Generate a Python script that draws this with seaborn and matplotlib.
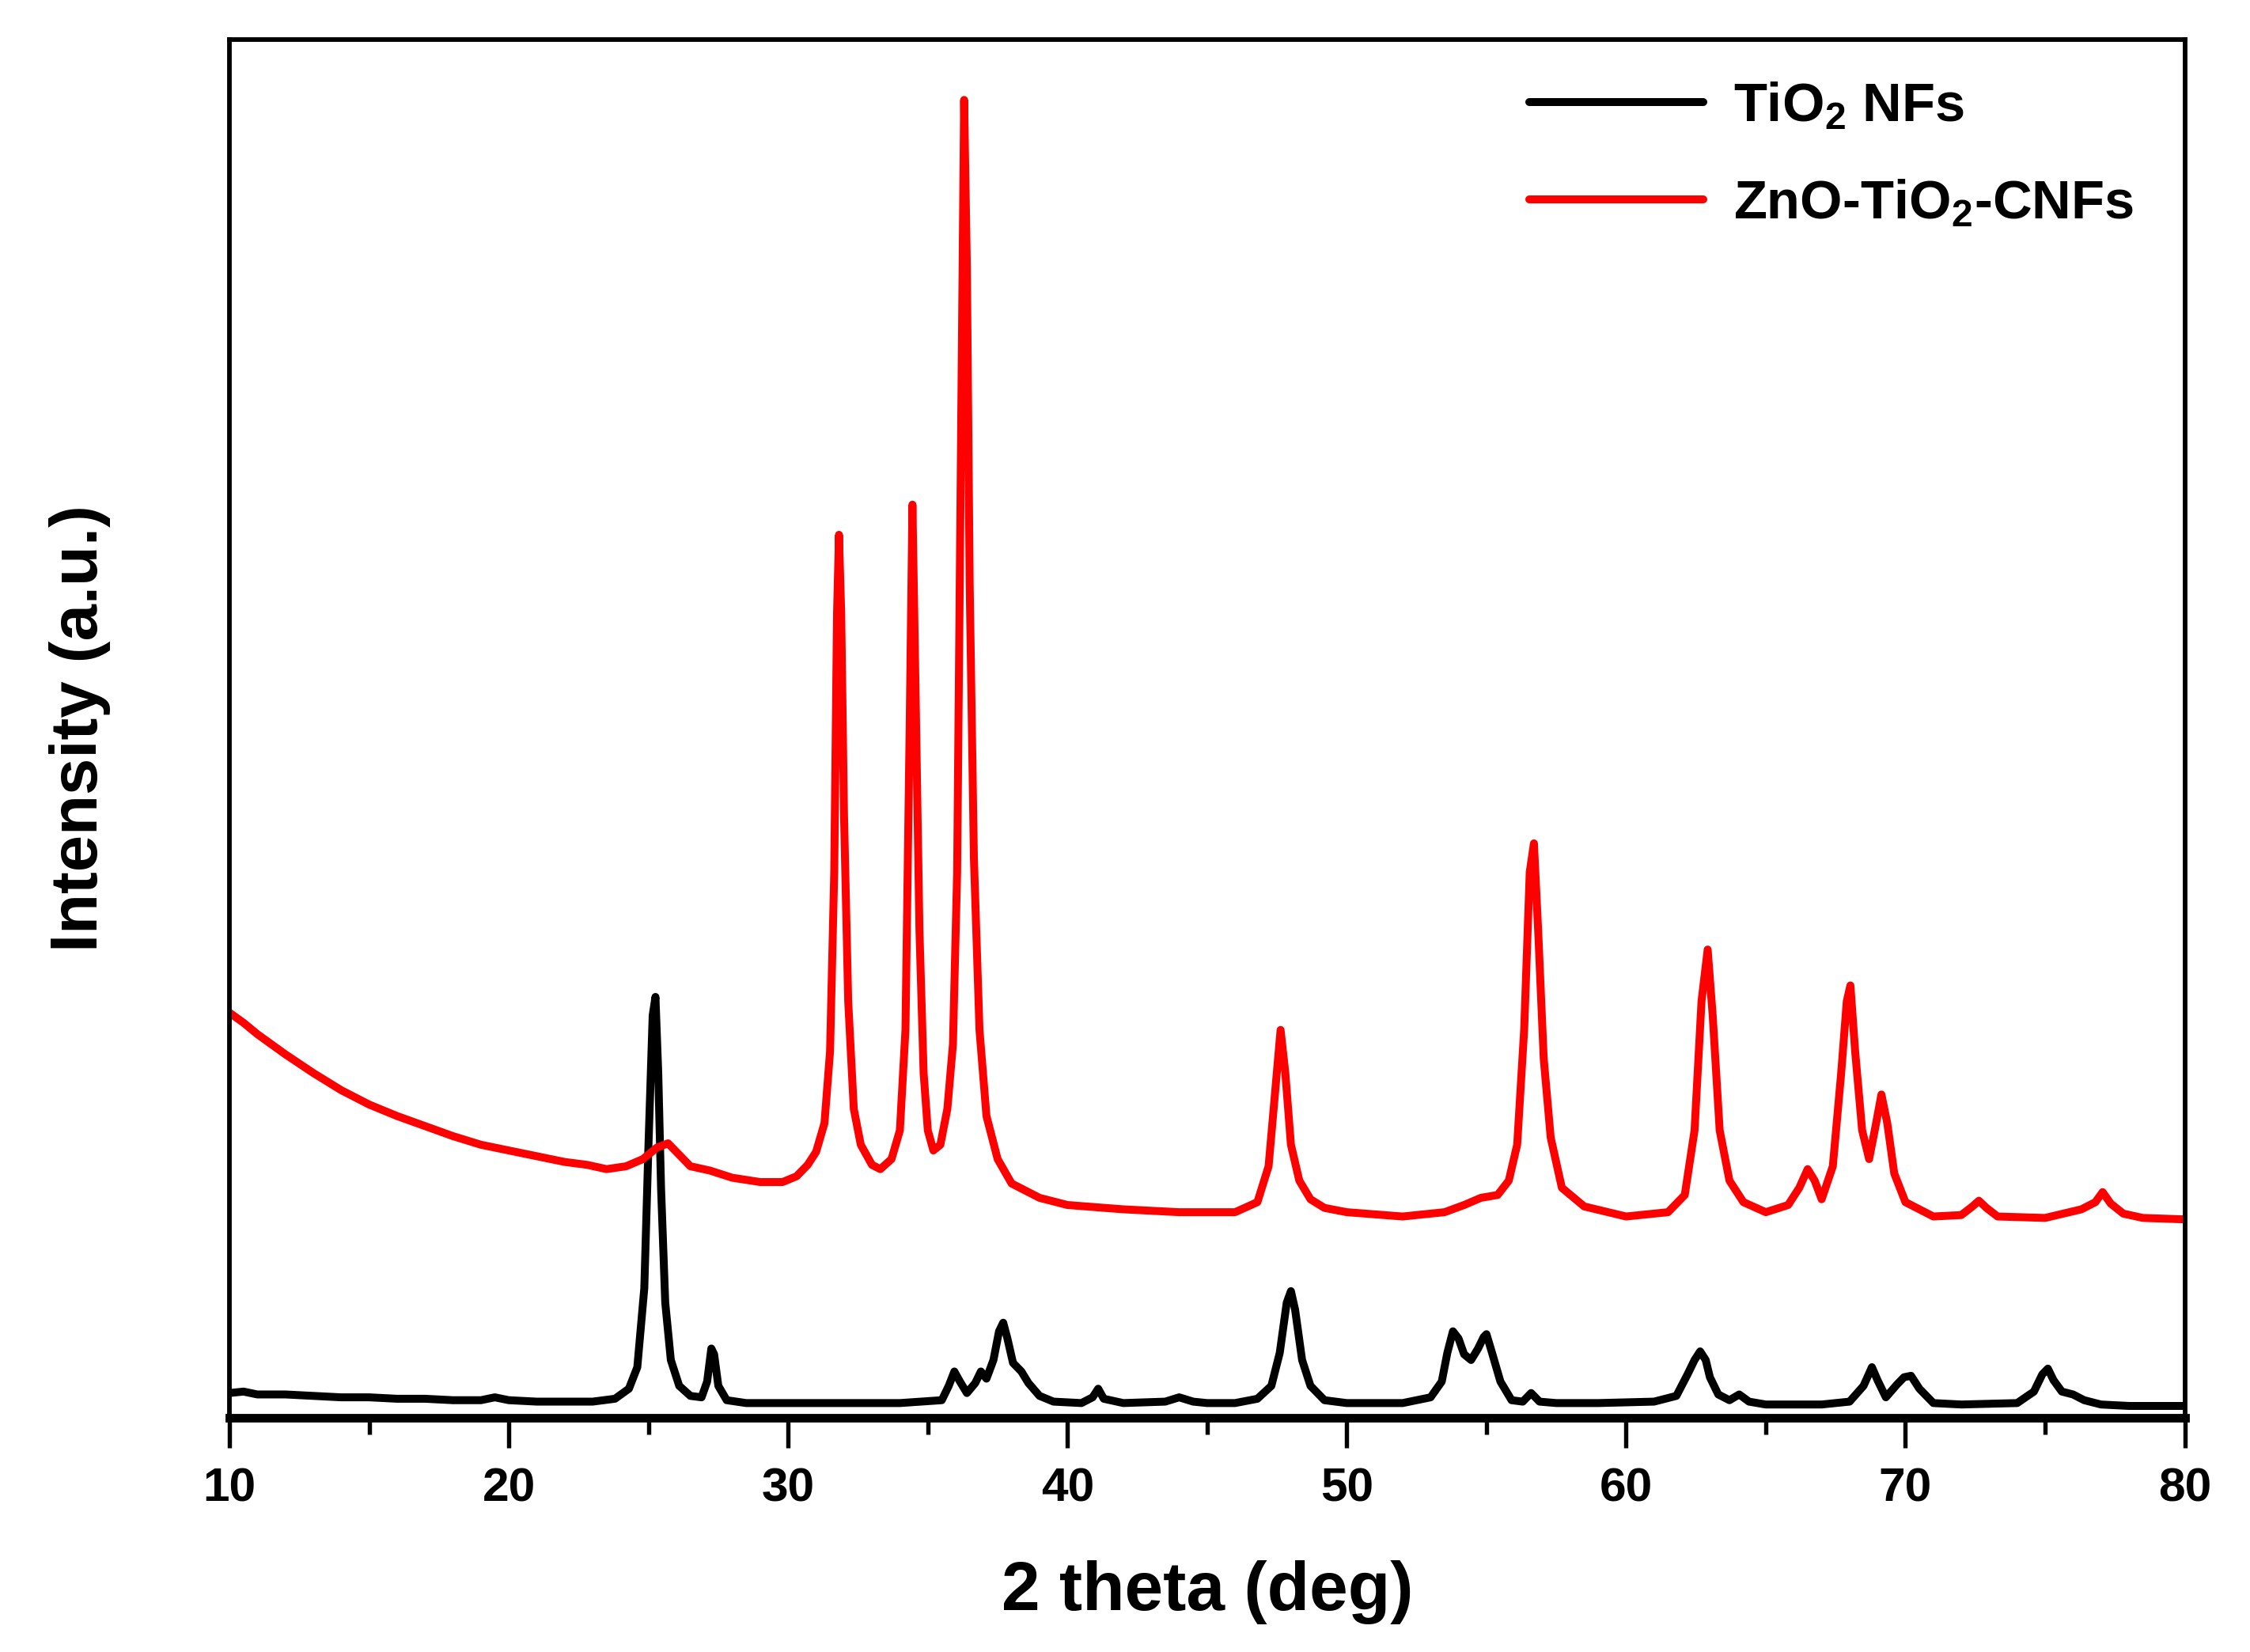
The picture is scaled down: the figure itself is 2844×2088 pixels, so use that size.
import matplotlib
matplotlib.use("Agg")
import matplotlib.pyplot as plt
from matplotlib.ticker import MultipleLocator
import seaborn as sns

# XRD pattern of TiO2 NFs (black)
tio2_theta = [10, 10.5, 11, 12, 13, 14, 15, 16, 17, 18, 19, 19.5, 20, 21, 22, 23,
              23.8, 24.3, 24.6, 24.85, 25.0, 25.15, 25.25, 25.35, 25.45, 25.6, 25.8,
              26.1, 26.5, 26.9, 27.1, 27.25, 27.35, 27.5, 27.8, 28.5, 30, 32, 34,
              35.5, 35.75, 35.95, 36.15, 36.4, 36.7, 36.9, 37.1, 37.35, 37.55, 37.7,
              37.85, 38.05, 38.35, 38.6, 39.0, 39.5, 40.5, 40.9, 41.1, 41.3, 42, 43.5,
              44, 44.5, 45, 46, 46.8, 47.3, 47.6, 47.85, 48.0, 48.15, 48.4, 48.7, 49.2,
              50, 52, 53.0, 53.4, 53.6, 53.8, 54.0, 54.2, 54.45, 54.7, 54.9, 55.0,
              55.2, 55.5, 55.9, 56.3, 56.6, 56.9, 57.5, 59, 61, 61.8, 62.2, 62.45,
              62.65, 62.85, 63.0, 63.3, 63.7, 64.05, 64.4, 65, 67, 68.0, 68.5, 68.8,
              69.0, 69.3, 69.7, 69.95, 70.2, 70.5, 71, 72, 74.0, 74.6, 74.9, 75.1,
              75.3, 75.6, 76.0, 76.4, 77, 78, 80]
tio2_int = [17, 18, 16, 16, 15, 14, 14, 13, 13, 12, 12, 14, 12, 11, 11, 11,
            13, 20, 35, 90, 190, 280, 293, 240, 160, 80, 40,
            22, 15, 14, 25, 48, 44, 22, 12, 10, 10, 10, 10,
            12, 22, 32, 25, 17, 24, 32, 27, 40, 60, 66,
            55, 38, 32, 24, 15, 11, 10, 14, 20, 13, 10, 11,
            14, 11, 10, 10, 13, 22, 45, 80, 88, 75, 40, 22, 12,
            10, 10, 14, 25, 45, 60, 55, 44, 40, 48, 56, 58,
            45, 25, 12, 11, 17, 11, 10, 10, 11, 15, 30, 40,
            46, 40, 28, 16, 12, 16, 11, 9, 9, 11, 22, 35,
            26, 14, 23, 28, 29, 20, 10, 9, 10, 18, 30, 34,
            26, 18, 16, 12, 9, 8, 8]

# XRD pattern of ZnO-TiO2-CNFs (red)
zno_theta = [10, 10.5, 11, 11.5, 12, 13, 14, 15, 16, 17, 18, 19, 20, 21, 22, 22.8,
             23.5, 24.2, 24.8, 25.3, 25.7, 26.1, 26.5, 27.2, 28, 29, 29.8, 30.3,
             30.7, 31.0, 31.3, 31.5, 31.65, 31.75, 31.82, 31.9, 32.0, 32.15, 32.35,
             32.6, 33.0, 33.3, 33.7, 34.0, 34.2, 34.35, 34.45, 34.55, 34.7, 34.85,
             35.0, 35.2, 35.45, 35.7, 35.9, 36.05, 36.2, 36.3, 36.4, 36.5, 36.65,
             36.85, 37.1, 37.5, 38.0, 39, 40, 42, 44, 46, 46.8, 47.2, 47.45, 47.63,
             47.8, 48.0, 48.3, 48.7, 49.2, 50, 52, 53.5, 54.2, 54.8, 55.4, 55.8,
             56.1, 56.35, 56.55, 56.7, 56.85, 57.05, 57.3, 57.7, 58.5, 60, 61.5,
             62.1, 62.45, 62.7, 62.92, 63.1, 63.35, 63.7, 64.2, 65, 65.8, 66.2, 66.5,
             66.75, 67.0, 67.4, 67.7, 67.9, 68.03, 68.2, 68.45, 68.7, 68.95, 69.14,
             69.35, 69.6, 70, 71, 72, 72.4, 72.63, 72.9, 73.3, 75, 76.3, 76.8, 77.06,
             77.35, 77.8, 78.5, 80]
zno_int = [282, 275, 267, 260, 253, 240, 228, 218, 210, 203, 196, 190, 186, 182, 178, 176,
           173, 175, 180, 188, 191, 183, 175, 172, 167, 164, 164, 168,
           176, 185, 205, 255, 380, 560, 615, 560, 420, 290, 215,
           190, 176, 173, 180, 200, 270, 480, 636, 520, 340, 240,
           200, 186, 190, 215, 260, 380, 700, 918, 800, 580, 390,
           270, 210, 180, 163, 153, 148, 145, 143, 143, 150, 175, 230, 270,
           240, 190, 165, 152, 146, 143, 140, 143, 148, 153, 155, 165,
           190, 270, 380, 400, 340, 250, 195, 160, 147, 140, 143,
           155, 200, 290, 326, 280, 200, 165, 150, 143, 148, 160, 173,
           165, 152, 175, 240, 290, 301, 255, 200, 180, 205, 225,
           205, 170, 150, 140, 141, 147, 151, 146, 140, 139, 145, 150, 157,
           149, 142, 139, 138]

labels = ["TiO$_2$ NFs", "ZnO-TiO$_2$-CNFs"]

sns.set_style("ticks")
plt.rcParams["font.family"] = ["Liberation Sans", "DejaVu Sans"]
plt.rcParams["font.weight"] = "bold"
plt.rcParams["axes.labelweight"] = "bold"
plt.rcParams["text.color"] = "black"
plt.rcParams["axes.labelcolor"] = "black"
plt.rcParams["xtick.color"] = "black"
plt.rcParams["xtick.labelcolor"] = "black"
plt.rcParams["mathtext.fontset"] = "custom"
plt.rcParams["mathtext.rm"] = "Liberation Sans:bold"
plt.rcParams["mathtext.it"] = "Liberation Sans:bold"
plt.rcParams["mathtext.bf"] = "Liberation Sans:bold"

fig = plt.figure(figsize=(9.48, 6.96), dpi=300)
ax = fig.add_axes([0.102, 0.142, 0.869, 0.834])

sns.lineplot(x=tio2_theta, y=tio2_int, color="black", linewidth=2.4,
             label=labels[0], ax=ax)
sns.lineplot(x=zno_theta, y=zno_int, color="#ff0000", linewidth=2.4,
             label=labels[1], ax=ax)

ax.set_xlim(10, 80)
ax.set_ylim(0, 960)
ax.set_yticks([])
ax.set_xticks(range(10, 81, 10))
ax.xaxis.set_minor_locator(MultipleLocator(5))
ax.tick_params(axis="x", which="major", direction="out", length=9, width=1.3,
               labelsize=14.5, pad=6, color="black", labelcolor="black")
ax.tick_params(axis="x", which="minor", direction="out", length=5, width=1.3,
               color="black")
for lbl in ax.get_xticklabels():
    lbl.set_fontweight("bold")

for side in ["left", "right", "top"]:
    ax.spines[side].set_linewidth(1.4)
    ax.spines[side].set_color("black")
ax.spines["bottom"].set_linewidth(2.6)
ax.spines["bottom"].set_color("black")

ax.set_xlabel("2 theta (deg)", fontsize=21, fontweight="bold", labelpad=15,
              color="black")
ax.set_ylabel("Intensity (a.u.)", fontsize=20, fontweight="bold", labelpad=36,
              color="black")

leg = ax.legend(loc="upper left", bbox_to_anchor=(0.651, 0.99), frameon=False,
                fontsize=16.5, handlelength=3.2, handletextpad=0.55,
                labelspacing=0.85, borderpad=0)
for line in leg.get_lines():
    line.set_linewidth(2.4)

fig.savefig("out.png", dpi=300)
plt.close(fig)
